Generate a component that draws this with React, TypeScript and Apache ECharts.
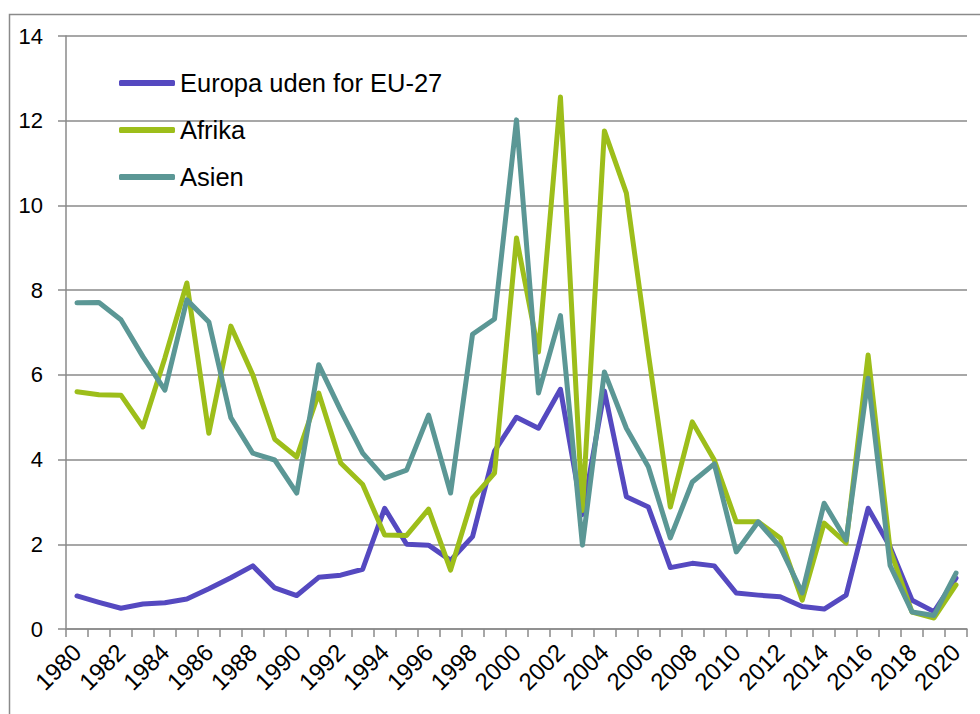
import React, { useEffect, useRef } from "react";
import * as echarts from "echarts";

const years = [
  "1980","1981","1982","1983","1984","1985","1986","1987","1988","1989",
  "1990","1991","1992","1993","1994","1995","1996","1997","1998","1999",
  "2000","2001","2002","2003","2004","2005","2006","2007","2008","2009",
  "2010","2011","2012","2013","2014","2015","2016","2017","2018","2019","2020",
];

const europa = [
  0.78, 0.63, 0.49, 0.59, 0.62, 0.71, 0.95, 1.21, 1.49, 0.97,
  0.79, 1.22, 1.27, 1.41, 2.85, 2.0, 1.98, 1.62, 2.18, 4.2,
  5.0, 4.74, 5.66, 2.7, 5.62, 3.12, 2.88, 1.45, 1.55, 1.49,
  0.85, 0.8, 0.76, 0.53, 0.47, 0.8, 2.85, 1.94, 0.68, 0.41, 1.2,
];

const afrika = [
  5.6, 5.53, 5.52, 4.77, 6.4, 8.17, 4.62, 7.15, 6.0, 4.48,
  4.06, 5.57, 3.92, 3.41, 2.22, 2.21, 2.83, 1.39, 3.09, 3.68,
  9.23, 6.54, 12.56, 2.8, 11.76, 10.29, 6.5, 2.88, 4.89, 3.99,
  2.53, 2.53, 2.15, 0.68, 2.5, 2.03, 6.47, 1.87, 0.4, 0.26, 1.04,
];

const asien = [
  7.7, 7.71, 7.3, 6.43, 5.64, 7.77, 7.25, 4.99, 4.15, 3.99,
  3.21, 6.24, 5.16, 4.15, 3.56, 3.75, 5.05, 3.21, 6.96, 7.32,
  12.02, 5.57, 7.4, 1.98, 6.07, 4.74, 3.83, 2.15, 3.47, 3.9,
  1.82, 2.53, 1.94, 0.85, 2.97, 2.1, 5.92, 1.5, 0.4, 0.32, 1.32,
];

const seriesNames = ["Europa uden for EU-27", "Afrika", "Asien"];
const seriesColors = ["#5549c0", "#9dbe1a", "#5b9795"];

const FONT = "'Liberation Sans', Arial, sans-serif";

export default function App() {
  const ref = useRef<HTMLDivElement>(null);

  useEffect(() => {
    if (!ref.current) return;
    const chart = echarts.init(ref.current, undefined, { renderer: "svg" });
    const dataSets = [europa, afrika, asien];
    chart.setOption({
      animation: false,
      backgroundColor: "#ffffff",
      textStyle: { fontFamily: FONT },
      graphic: [
        {
          type: "rect",
          shape: { x: 9.5, y: 14.5, width: 1200, height: 1200 },
          style: { fill: "none", stroke: "#8a8a8a", lineWidth: 1.5 },
          silent: true,
          z: -10,
        },
      ],
      legend: {
        orient: "vertical",
        left: 114,
        top: 63,
        itemWidth: 56,
        itemHeight: 6,
        itemGap: 17,
        itemTextGap: 3,
        icon: "roundRect",
        textStyle: {
          fontFamily: FONT,
          fontSize: 25.5,
          color: "#000",
          lineHeight: 30,
        },
        data: seriesNames,
      },
      grid: { left: 66, right: 13, top: 36, bottom: 85, containLabel: false },
      xAxis: {
        type: "category",
        data: years,
        boundaryGap: true,
        axisLine: { lineStyle: { color: "#8a8a8a", width: 1.5 } },
        axisTick: {
          show: true,
          interval: 0,
          length: 8,
          lineStyle: { color: "#8a8a8a", width: 1.5 },
        },
        axisLabel: {
          interval: 1,
          rotate: 45,
          fontFamily: FONT,
          fontSize: 24,
          color: "#000",
          margin: 19,
        },
        splitLine: { show: false },
      },
      yAxis: {
        type: "value",
        min: 0,
        max: 14,
        interval: 2,
        axisLine: { show: true, lineStyle: { color: "#8a8a8a", width: 1.5 } },
        axisTick: { show: true, length: 8, lineStyle: { color: "#8a8a8a", width: 1.5 } },
        axisLabel: {
          fontFamily: FONT,
          fontSize: 22,
          color: "#000",
          margin: 23,
        },
        splitLine: { show: true, lineStyle: { color: "#8a8a8a", width: 1.5 } },
      },
      series: seriesNames.map((name, i) => ({
        name,
        type: "line",
        data: dataSets[i],
        symbol: "none",
        color: seriesColors[i],
        lineStyle: { width: 5, color: seriesColors[i], cap: "round", join: "round" },
        z: 2 + i,
      })),
    });
    return () => chart.dispose();
  }, []);

  return (
    <div
      ref={ref}
      style={{ position: "fixed", left: 0, top: 0, width: 980, height: 714 }}
    />
  );
}
